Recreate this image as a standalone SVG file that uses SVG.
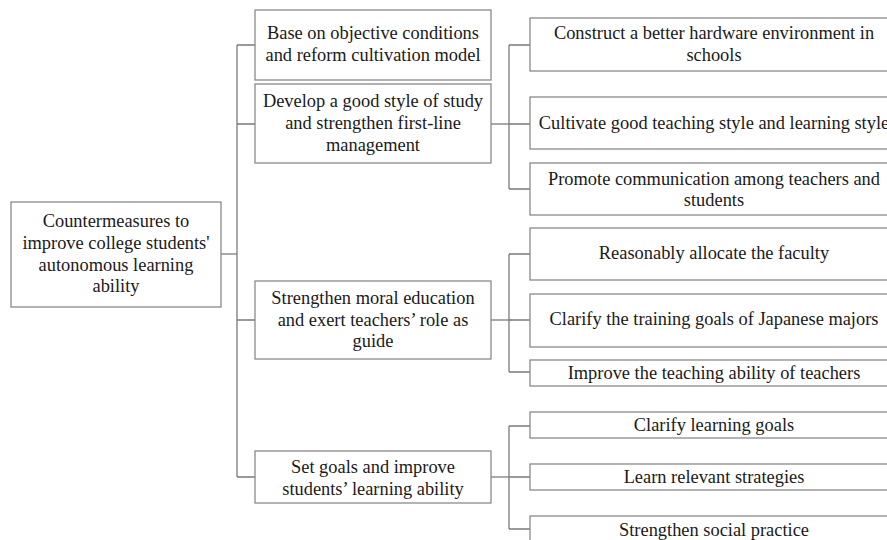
<svg xmlns="http://www.w3.org/2000/svg" width="887" height="540" viewBox="0 0 887 540">
  <style>
    .box { fill: #ffffff; stroke: #8a8a8a; stroke-width: 1.3; }
    .lbl { font-family: "Liberation Serif", "Times New Roman", serif; font-size: 18.4px; fill: #1a1a1a; text-anchor: middle; }
    .wire { fill: none; stroke: #7a7a7a; stroke-width: 1.3; }
  </style>
  <rect width="887" height="540" fill="#ffffff"/>

  <!-- connectors -->
  <g id="connectors">
    <path class="wire" d="M221 254 H237"/>
    <path class="wire" d="M237 45 V477"/>
    <path class="wire" d="M237 45 H255 M237 124 H255 M237 320 H255 M237 477 H255"/>

    <path class="wire" d="M491 124 H509"/>
    <path class="wire" d="M509 45 V189"/>
    <path class="wire" d="M509 45 H530 M509 124 H530 M509 189 H530"/>

    <path class="wire" d="M491 320 H509"/>
    <path class="wire" d="M509 254 V372"/>
    <path class="wire" d="M509 254 H530 M509 320 H530 M509 372 H530"/>

    <path class="wire" d="M491 477 H509"/>
    <path class="wire" d="M509 426 V529"/>
    <path class="wire" d="M509 426 H530 M509 477 H530 M509 529 H530"/>
  </g>

  <!-- root -->
  <g id="root">
    <rect class="box" x="11" y="202" width="210" height="105"/>
    <text class="lbl" x="116" y="227">Countermeasures to</text>
    <text class="lbl" x="116" y="249">improve college students'</text>
    <text class="lbl" x="116" y="271">autonomous learning</text>
    <text class="lbl" x="116" y="292">ability</text>
  </g>

  <!-- second level -->
  <g id="base">
    <rect class="box" x="255" y="10" width="236" height="70"/>
    <text class="lbl" x="373" y="39">Base on objective conditions</text>
    <text class="lbl" x="373" y="61">and reform cultivation model</text>
  </g>
  <g id="develop">
    <rect class="box" x="255" y="84" width="236" height="79"/>
    <text class="lbl" x="373" y="107">Develop a good style of study</text>
    <text class="lbl" x="373" y="129">and strengthen first-line</text>
    <text class="lbl" x="373" y="151">management</text>
  </g>
  <g id="moral">
    <rect class="box" x="255" y="281" width="236" height="78"/>
    <text class="lbl" x="373" y="304">Strengthen moral education</text>
    <text class="lbl" x="373" y="326">and exert teachers’ role as</text>
    <text class="lbl" x="373" y="347">guide</text>
  </g>
  <g id="goals">
    <rect class="box" x="255" y="451" width="236" height="52"/>
    <text class="lbl" x="373" y="473">Set goals and improve</text>
    <text class="lbl" x="373" y="495">students’ learning ability</text>
  </g>

  <!-- third level -->
  <g id="hardware">
    <rect class="box" x="530" y="18" width="368" height="53"/>
    <text class="lbl" x="714" y="39">Construct a better hardware environment in</text>
    <text class="lbl" x="714" y="61">schools</text>
  </g>
  <g id="style">
    <rect class="box" x="530" y="97" width="368" height="52"/>
    <text class="lbl" x="714" y="129">Cultivate good teaching style and learning style</text>
  </g>
  <g id="communication">
    <rect class="box" x="530" y="163" width="368" height="52"/>
    <text class="lbl" x="714" y="185">Promote communication among teachers and</text>
    <text class="lbl" x="714" y="206">students</text>
  </g>
  <g id="faculty">
    <rect class="box" x="530" y="228" width="368" height="52"/>
    <text class="lbl" x="714" y="259">Reasonably allocate the faculty</text>
  </g>
  <g id="training">
    <rect class="box" x="530" y="294" width="368" height="53"/>
    <text class="lbl" x="714" y="325">Clarify the training goals of Japanese majors</text>
  </g>
  <g id="ability">
    <rect class="box" x="530" y="360" width="368" height="26"/>
    <text class="lbl" x="714" y="379">Improve the teaching ability of teachers</text>
  </g>
  <g id="learning-goals">
    <rect class="box" x="530" y="412" width="368" height="26"/>
    <text class="lbl" x="714" y="431">Clarify learning goals</text>
  </g>
  <g id="strategies">
    <rect class="box" x="530" y="464" width="368" height="26"/>
    <text class="lbl" x="714" y="483">Learn relevant strategies</text>
  </g>
  <g id="practice">
    <rect class="box" x="530" y="516" width="368" height="40"/>
    <text class="lbl" x="714" y="536">Strengthen social practice</text>
  </g>
</svg>
